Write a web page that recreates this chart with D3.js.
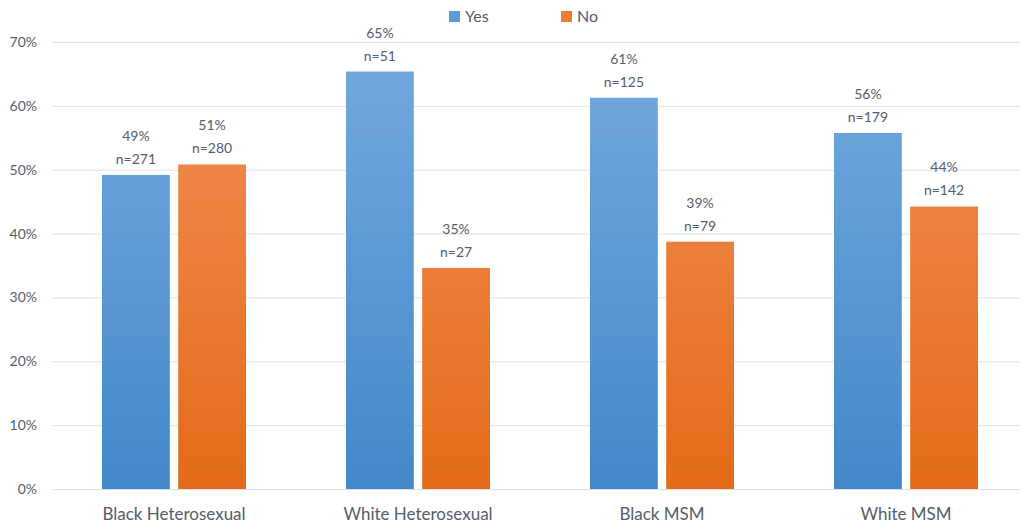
<!DOCTYPE html>
<html>
<head>
<meta charset="utf-8">
<script src="https://cdn.jsdelivr.net/npm/d3@7"></script>
<style>
  html, body { margin: 0; padding: 0; background: #fff; }
  svg { display: block; font-family: Lato, "Open Sans", sans-serif; }
</style>
</head>
<body>
<svg id="chart" width="1020" height="525"></svg>
<script>
// Groups along the x axis
const categories = ["Black Heterosexual", "White Heterosexual", "Black MSM", "White MSM"];
const series = ["Yes", "No"];
// Share of each group answering Yes / No (percent) and counts
const yesValues = [49.18, 65.38, 61.27, 55.76];
const noValues = [50.82, 34.62, 38.73, 44.24];
const yesCounts = [271, 51, 125, 179];
const noCounts = [280, 27, 79, 142];
const yTicks = [0, 10, 20, 30, 40, 50, 60, 70];

const svg = d3.select("#chart");
const W = 1020, H = 525;
const plotLeft = 52, plotTop = 42, plotBottom = 489;

const colors = {
  Yes: { top: "#74a9dd", bottom: "#4388ca", legend: "#5b9bd5" },
  No:  { top: "#f28f58", bottom: "#e36b18", legend: "#ed7d31" }
};

const defs = svg.append("defs");
series.forEach(s => {
  const g = defs.append("linearGradient")
    .attr("id", "grad-" + s)
    .attr("gradientUnits", "userSpaceOnUse")
    .attr("x1", 0).attr("x2", 0)
    .attr("y1", plotTop).attr("y2", plotBottom);
  g.append("stop").attr("offset", "0%").attr("stop-color", colors[s].top);
  g.append("stop").attr("offset", "100%").attr("stop-color", colors[s].bottom);
});

const x0 = d3.scaleBand().domain(categories).range([plotLeft, plotLeft + 244 * categories.length]).padding(0);
const x1 = d3.scaleBand().domain(series).range([50, 194]).paddingInner(0.11).paddingOuter(0);
const y = d3.scaleLinear().domain([0, 70]).range([plotBottom, plotTop]);

// Gridlines
svg.append("g").selectAll("line").data(yTicks).join("line")
  .attr("x1", plotLeft).attr("x2", W)
  .attr("y1", d => y(d) + 0.5).attr("y2", d => y(d) + 0.5)
  .attr("stroke", "#dfe1e8").attr("stroke-width", 1);

// Y axis labels
const yAxis = d3.axisLeft(y).tickValues(yTicks).tickFormat(d => d + "%").tickSize(0).tickPadding(0);
const ya = svg.append("g").attr("transform", "translate(37,0)").call(yAxis);
ya.select(".domain").remove();
ya.selectAll("text").attr("font-size", 14).attr("fill", "#555d6b")
  .attr("font-family", "Lato, 'Open Sans', sans-serif");

// X axis labels
const xAxis = d3.axisBottom(x0).tickSize(0).tickPadding(0);
const xa = svg.append("g").attr("transform", `translate(0,${plotBottom + 19})`).call(xAxis);
xa.select(".domain").remove();
xa.selectAll("text").attr("font-size", 17).attr("fill", "#555d6b")
  .attr("font-family", "Lato, 'Open Sans', sans-serif");

// Bars
const rows = categories.map((c, i) => ({
  cat: c,
  items: [
    { s: "Yes", v: yesValues[i], n: yesCounts[i] },
    { s: "No", v: noValues[i], n: noCounts[i] }
  ]
}));

const groups = svg.append("g").selectAll("g").data(rows).join("g")
  .attr("transform", d => `translate(${x0(d.cat)},0)`);

groups.selectAll("rect").data(d => d.items).join("rect")
  .attr("x", d => x1(d.s))
  .attr("width", x1.bandwidth())
  .attr("y", d => y(d.v))
  .attr("height", d => y(0) - y(d.v))
  .attr("fill", d => `url(#grad-${d.s})`);

// Value labels
const lab = groups.selectAll("text.lab").data(d => d.items).join("text")
  .attr("class", "lab")
  .attr("text-anchor", "middle")
  .attr("font-size", 14)
  .attr("fill", "#555d6b");
lab.append("tspan").attr("x", d => x1(d.s) + x1.bandwidth() / 2)
  .attr("y", d => y(d.v) - 34).text(d => Math.round(d.v) + "%");
lab.append("tspan").attr("x", d => x1(d.s) + x1.bandwidth() / 2)
  .attr("y", d => y(d.v) - 11).text(d => "n=" + d.n);

// Legend
const legend = svg.append("g").attr("transform", "translate(449,11)");
const li = legend.selectAll("g").data(series).join("g")
  .attr("transform", (d, i) => `translate(${i * 112},0)`);
li.append("rect").attr("width", 11).attr("height", 11)
  .attr("fill", d => colors[d].legend);
li.append("text").attr("x", 16).attr("y", 11).attr("font-size", 16)
  .attr("fill", "#555d6b").text(d => d);
</script>
</body>
</html>
